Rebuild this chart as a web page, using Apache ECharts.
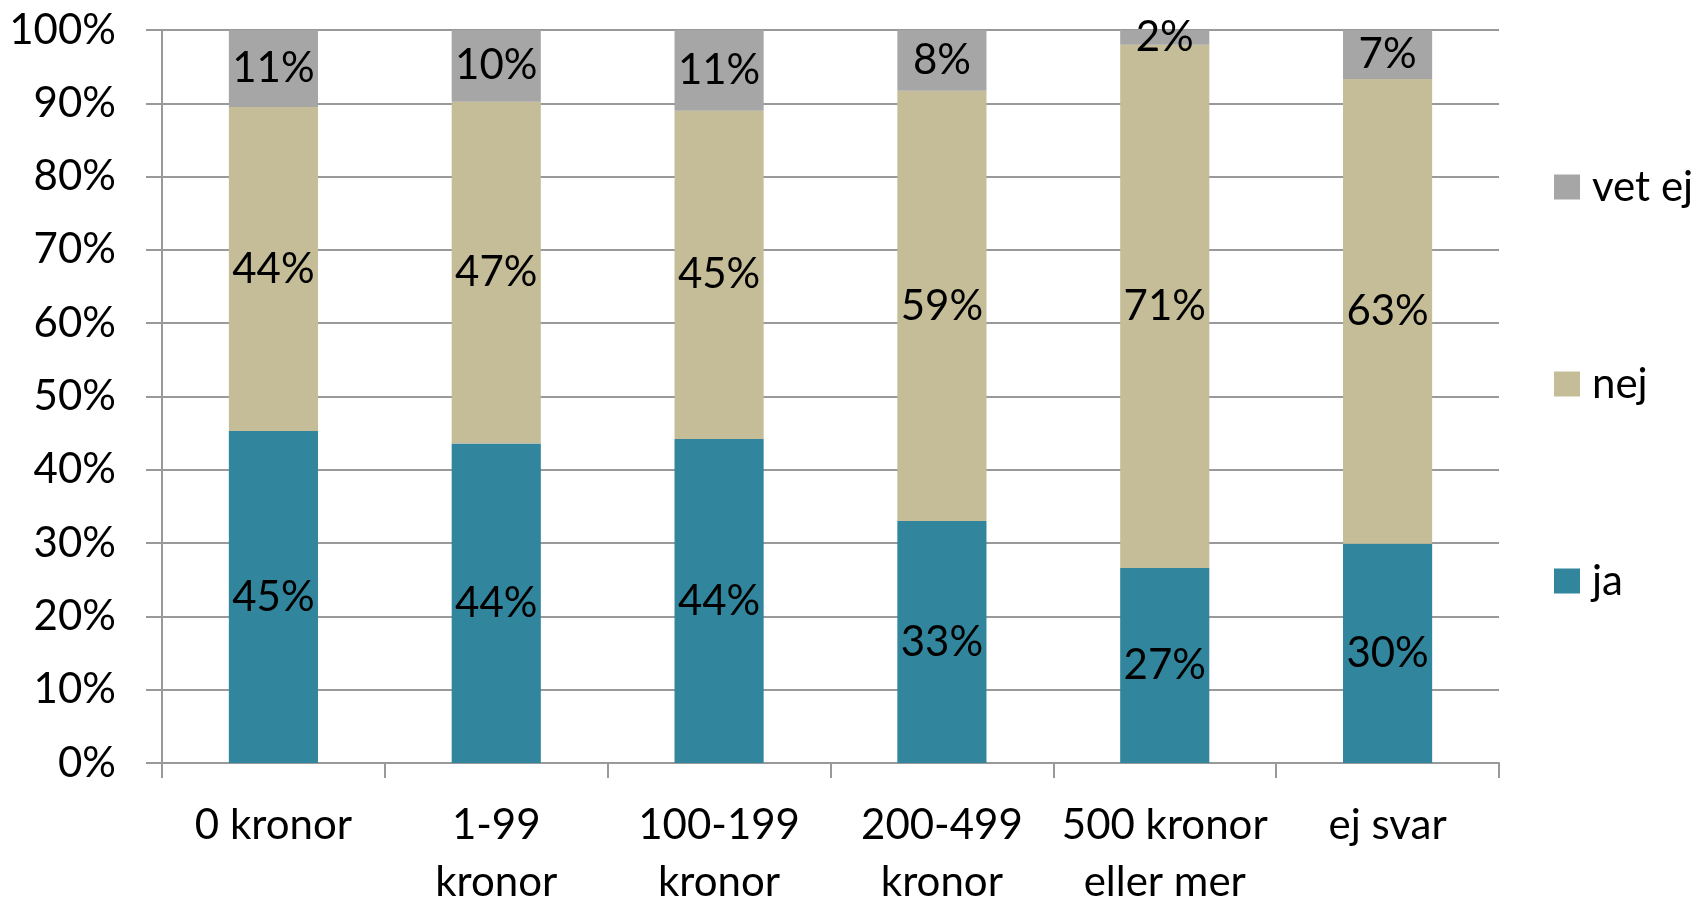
<!DOCTYPE html>
<html>
<head>
<meta charset="utf-8">
<script src="https://cdn.jsdelivr.net/npm/echarts@6/dist/echarts.min.js"></script>
<style>
html,body{margin:0;padding:0;background:#fff;}
#chart{width:1698px;height:911px;}
</style>
</head>
<body>
<div id="chart"></div>
<script>
const categories = ['0 kronor', '1-99\nkronor', '100-199\nkronor', '200-499\nkronor', '500 kronor\neller mer', 'ej svar'];
const seriesNames = ['ja', 'nej', 'vet ej'];
const jaValues = [45.3, 43.6, 44.2, 33.0, 26.6, 29.9];
const nejValues = [44.2, 46.6, 44.8, 58.7, 71.4, 63.4];
const vetEjValues = [10.5, 9.8, 11.0, 8.3, 2.0, 6.7];
const yTicks = [0, 10, 20, 30, 40, 50, 60, 70, 80, 90, 100];

const FONT = 'Lato';
const FS = 42;
const gridColor = '#999999';
const colors = ['#31859C', '#C4BD97', '#A6A6A6'];

const chart = echarts.init(document.getElementById('chart'));
const labelCfg = {
  show: true,
  position: 'inside',
  color: '#000',
  fontFamily: FONT,
  fontSize: FS,
  formatter: p => Math.round(p.value) + '%'
};
const makeSeries = (name, data, i) => ({
  name: name,
  type: 'bar',
  stack: 'total',
  data: data,
  barWidth: '40%',
  itemStyle: { color: colors[i] },
  label: labelCfg,
  emphasis: { disabled: true }
});

chart.setOption({
  animation: false,
  textStyle: { fontFamily: FONT },
  grid: { left: 162, right: 1698 - 1499, top: 30, height: 742, containLabel: false },
  legend: {
    orient: 'vertical',
    left: 1549,
    top: 161,
    itemWidth: 26,
    itemHeight: 25,
    itemGap: 155,
    icon: 'rect',
    data: ['vet ej', 'nej', 'ja'],
    textStyle: { fontFamily: FONT, fontSize: FS, color: '#000', lineHeight: 42, padding: [0, 0, 0, 7] }
  },
  xAxis: {
    type: 'category',
    data: categories,
    axisLine: { lineStyle: { color: gridColor, width: 2 } },
    axisTick: { show: true, length: 15, lineStyle: { color: gridColor, width: 2 } },
    axisLabel: { color: '#000', fontFamily: FONT, fontSize: FS, lineHeight: 57, margin: 34, interval: 0 }
  },
  yAxis: {
    type: 'value',
    min: yTicks[0],
    max: yTicks[yTicks.length - 1],
    interval: yTicks[1] - yTicks[0],
    axisLine: { show: true, lineStyle: { color: gridColor, width: 2 } },
    axisTick: { show: true, length: 16, lineStyle: { color: gridColor, width: 2 } },
    splitLine: { show: true, lineStyle: { color: gridColor, width: 2 } },
    axisLabel: { color: '#000', fontFamily: FONT, fontSize: FS, margin: 46, formatter: v => v + '%' }
  },
  series: [
    makeSeries(seriesNames[0], jaValues, 0),
    makeSeries(seriesNames[1], nejValues, 1),
    makeSeries(seriesNames[2], vetEjValues, 2)
  ]
});
</script>
</body>
</html>
